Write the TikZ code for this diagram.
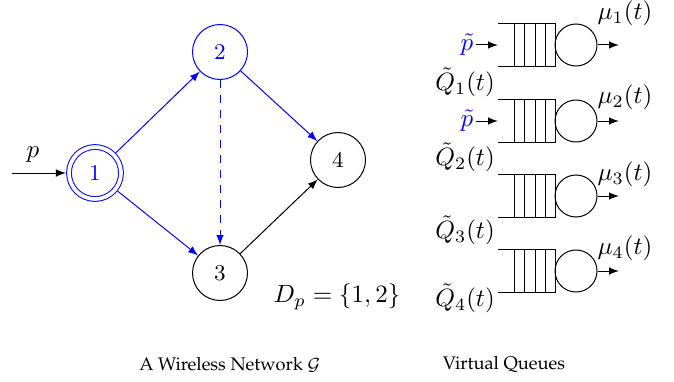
\documentclass[tikz,border=0pt]{standalone}
\usepackage{amsmath}
\newcommand{\captionfont}{\fontencoding{T1}\fontfamily{ppl}\fontsize{7.3}{9}\selectfont}

\tikzset{
	vertex/.style={draw, circle, minimum size=22pt, inner sep=0pt, font=\small},
	server/.style={draw, circle, minimum size=16.8pt, inner sep=0pt},
	link/.style={->, >=latex},
}

\begin{document}
\begin{tikzpicture}[x=0.4pt, y=0.4pt]% {{{ network G and virtual queues
	\useasboundingbox (0,0) rectangle (674,381);

	\node[vertex, blue, double, double distance=1.5pt, minimum size=20.8pt, outer sep=1.2pt] (n1) at (95,208) {1};
	\node[vertex, blue] (n2) at (220,329) {2};
	\node[vertex] (n3) at (220,108) {3};
	\node[vertex] (n4) at (338,221) {4};

	\coordinate (src) at (12,208);
	\node (p) at (33,226) {$p$};
	\draw[link] (src) -- (n1);
	\draw[link, blue] (n1) -- (n2);
	\draw[link, blue] (n1) -- (n3);
	\draw[link, blue] (n2) -- (n4);
	\draw[link, blue, dashed] (n2) -- (n3);
	\draw[link] (n3) -- (n4);
	\node (dp) at (337,84) {$D_p = \{1,2\}$};

	% virtual queues
	\foreach \i/\y/\m/\q in {1/336/368/299, 2/260/284/224, 3/185/207/151, 4/110/133/83} {
		\draw (498,\y+21.5) -- (555,\y+21.5) -- (555,\y-21.5) -- (498,\y-21.5);
		\foreach \x in {514,524,535,545}
			\draw (\x,\y+21.5) -- (\x,\y-21.5);
		\node[server] (s\i) at (576,\y) {};
		\coordinate (out\i) at (619,\y);
		\draw[link] (s\i) -- (out\i);
		\node (mu\i) at (625,\m) {$\mu_\i(t)$};
		\node (q\i) at (465,\q) {$\tilde{Q}_\i(t)$};
	}
	\foreach \i/\y in {1/336, 2/260} {
		\node[blue, inner sep=1pt] (pt\i) at (467,\y) {$\tilde{p}$};
		\coordinate (in\i) at (498,\y);
		\draw[link] (pt\i) -- (in\i);
	}

	\node (cap1) at (230,16) {\captionfont A Wireless Network $\mathcal{G}$};
	\node (cap2) at (504,16) {\captionfont Virtual Queues};
\end{tikzpicture}% }}}
\end{document}
